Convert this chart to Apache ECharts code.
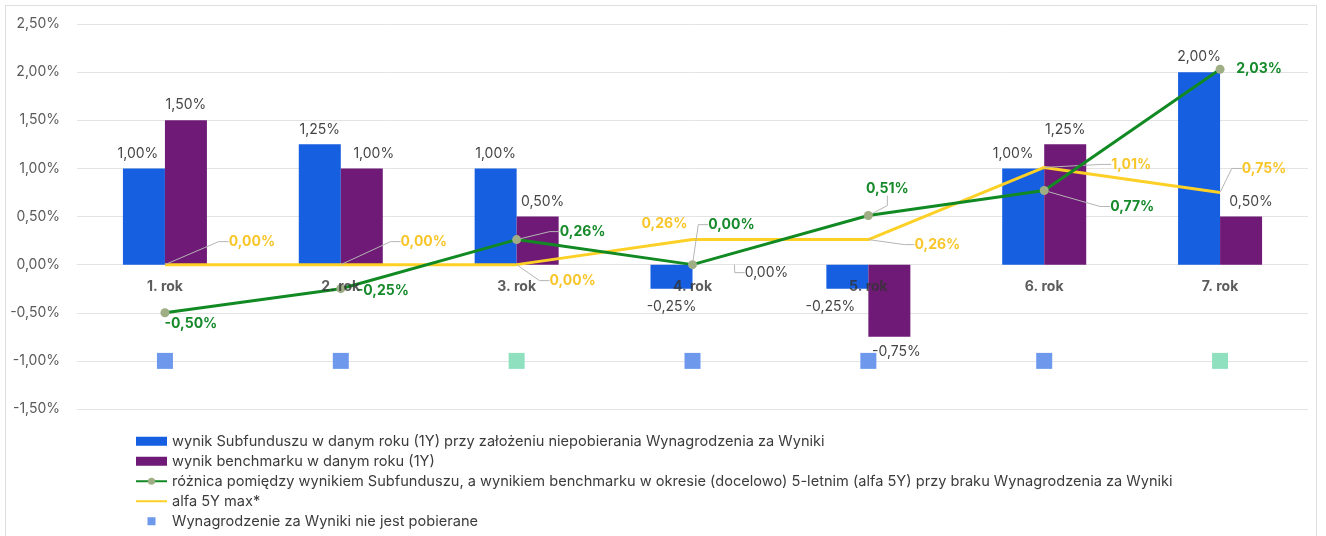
<!DOCTYPE html>
<html>
<head>
<meta charset="utf-8">
<script src="https://cdn.jsdelivr.net/npm/echarts@6/dist/echarts.min.js"></script>
<style>
  html, body { margin: 0; padding: 0; background: #fff; }
  #frame { position: absolute; left: 5px; top: 5px; width: 1312px; height: 600px; border: 1px solid #dedede; box-sizing: border-box; }
  #chart { position: absolute; left: 0; top: 0; width: 1326px; height: 536px; }
</style>
</head>
<body>
<div id="frame"></div>
<div id="chart"></div>
<script>
// Years of the observation window
const categories = ['1. rok', '2. rok', '3. rok', '4. rok', '5. rok', '6. rok', '7. rok'];

// Annual results, in percent
const fundReturn      = [1.00, 1.25, 1.00, -0.25, -0.25, 1.00, 2.00];
const benchmarkReturn = [1.50, 1.00, 0.50, 0.00, -0.75, 1.25, 0.50];

// 5-year alpha and its running maximum, in percent
const alpha5Y    = [-0.50, -0.25, 0.26, 0.00, 0.51, 0.77, 2.03];
const alpha5YMax = [0.00, 0.00, 0.00, 0.26, 0.26, 1.01, 0.75];

// Performance-fee status per year, drawn as a row of squares at -1%
const feeRowLevel = [-1, -1, -1, -1, -1, -1, -1];
const feeCharged  = [false, false, true, false, false, false, true];

// Year names sit just under the 0% line
const yearLabelLevel = [0, 0, 0, 0, 0, 0, 0];

// Value axis ticks
const yMin = -1.5, yMax = 2.5, yStep = 0.5;

// Series names (legend)
const names = [
  'wynik Subfunduszu w danym roku (1Y) przy założeniu niepobierania Wynagrodzenia za Wyniki',
  'wynik benchmarku w danym roku (1Y)',
  'różnica pomiędzy wynikiem Subfunduszu, a wynikiem benchmarku w okresie (docelowo) 5-letnim (alfa 5Y) przy braku Wynagrodzenia za Wyniki',
  'alfa 5Y max*',
  'Wynagrodzenie za Wyniki nie jest pobierane'
];

// Label nudges [dx, dy] in pixels, and whether a guide line is drawn
const fundLabelNudge      = [[-6, 0], [0, 0], [0, 0], [0, 3], [-17, 3], [-10, 0], [0, 0]];
const benchLabelNudge     = [[0, 0], [12, 0], [5, 0], [53, 23], [7, 0], [0, 0], [10, 0]];
const benchLabelGuide     = [false, false, false, true, false, false, false];
const alphaLabelNudge     = [[26, 11], [42, 2], [66, -8], [39, -40], [19, -27], [88, 16], [39, 0]];
const alphaLabelGuide     = [false, false, true, true, true, true, false];
const alphaMaxLabelNudge  = [[87, -23], [83, -23], [56, 16], [-28, -16], [69, 5], [87, -3], [44, -24]];
const alphaMaxLabelGuide  = [true, true, true, false, true, true, true];

const FONT = 'Inter, "Noto Sans", sans-serif';
const fmt = v => Number(v).toFixed(2).replace('.', ',') + '%';
const guideStyle = { color: '#b5b5b5', width: 1 };

function nudger(table) {
  return p => ({ dx: table[p.dataIndex][0], dy: table[p.dataIndex][1] });
}

function barData(values, guides) {
  return values.map((v, i) => ({
    value: v,
    label: { position: v < 0 ? 'bottom' : 'top' },
    labelLine: { show: !!(guides && guides[i]) }
  }));
}

function lineData(values, guides) {
  return values.map((v, i) => ({ value: v, labelLine: { show: guides[i] } }));
}

const barLabel = { show: true, distance: 8, color: '#454545', fontSize: 14, fontFamily: FONT, formatter: p => fmt(p.value) };

const option = {
  animation: false,
  textStyle: { fontFamily: FONT },
  grid: { left: 77, right: 18, top: 24, bottom: 127, containLabel: false },
  legend: {
    orient: 'vertical',
    left: 135,
    top: 433,
    padding: 0,
    itemWidth: 31,
    itemHeight: 9,
    itemGap: 3.5,
    textStyle: { fontSize: 14.6, color: '#3c3c3c', fontFamily: FONT, lineHeight: 16.5 },
    data: [
      { name: names[0], icon: 'rect' },
      { name: names[1], icon: 'rect' },
      { name: names[2] },
      { name: names[3] },
      { name: names[4], icon: 'path://M0,0M31,9M11.5,0.5h8v8h-8z' }
    ]
  },
  xAxis: {
    type: 'category',
    data: categories,
    axisLine: { show: true, onZero: true, lineStyle: { color: '#e3e3e3', width: 1 } },
    axisTick: { show: false },
    splitLine: { show: false },
    axisLabel: { show: false }
  },
  yAxis: {
    type: 'value',
    min: yMin,
    max: yMax,
    interval: yStep,
    axisLine: { show: false },
    axisTick: { show: false },
    splitLine: { lineStyle: { color: '#e3e3e3', width: 1 } },
    axisLabel: { margin: 17, fontSize: 14, color: '#5a5a5a', fontFamily: FONT, formatter: v => fmt(v) }
  },
  series: [
    {
      name: names[0],
      type: 'bar',
      barWidth: 42,
      barGap: '0%',
      itemStyle: { color: '#155fe0' },
      label: barLabel,
      labelLayout: nudger(fundLabelNudge),
      data: barData(fundReturn)
    },
    {
      name: names[1],
      type: 'bar',
      barWidth: 42,
      barGap: '0%',
      itemStyle: { color: '#6f1a76' },
      label: barLabel,
      labelLine: { show: false, length2: 10, lineStyle: guideStyle },
      labelLayout: nudger(benchLabelNudge),
      data: barData(benchmarkReturn, benchLabelGuide)
    },
    {
      name: names[2],
      type: 'line',
      z: 4,
      symbol: 'circle',
      symbolSize: 9,
      itemStyle: { color: '#9fae85' },
      lineStyle: { color: '#118a23', width: 3 },
      label: { show: true, position: 'inside', color: '#178a2b', fontWeight: 'bold', fontSize: 14, fontFamily: FONT, formatter: p => fmt(p.value) },
      labelLine: { show: true, length2: 10, lineStyle: guideStyle },
      labelLayout: nudger(alphaLabelNudge),
      data: lineData(alpha5Y, alphaLabelGuide)
    },
    {
      name: names[3],
      type: 'line',
      z: 3,
      symbol: 'circle',
      symbolSize: 1,
      itemStyle: { color: 'rgba(0,0,0,0)' },
      lineStyle: { color: '#fdd026', width: 3 },
      label: { show: true, position: 'inside', color: '#f8c62a', fontWeight: 'bold', fontSize: 14, fontFamily: FONT, formatter: p => fmt(p.value) },
      labelLine: { show: true, length2: 10, lineStyle: guideStyle },
      labelLayout: nudger(alphaMaxLabelNudge),
      data: lineData(alpha5YMax, alphaMaxLabelGuide)
    },
    {
      name: names[4],
      type: 'scatter',
      symbol: 'rect',
      symbolSize: 16,
      itemStyle: { color: '#6d98ec', opacity: 1 },
      data: feeRowLevel.map((v, i) => ({
        value: v,
        itemStyle: { color: feeCharged[i] ? '#8ee0bf' : '#6d98ec', opacity: 1 }
      }))
    },
    {
      // year names anchored to the 0% line
      name: 'rok',
      type: 'scatter',
      z: 5,
      silent: true,
      symbol: 'circle',
      symbolSize: 1,
      itemStyle: { color: 'rgba(0,0,0,0)' },
      label: {
        show: true,
        position: 'bottom',
        distance: 15,
        fontSize: 14,
        fontWeight: 'bold',
        color: '#333',
        fontFamily: FONT,
        formatter: p => categories[p.dataIndex]
      },
      data: yearLabelLevel
    }
  ]
};

const chart = echarts.init(document.getElementById('chart'), null, { renderer: 'canvas' });
chart.setOption(option);
</script>
</body>
</html>
